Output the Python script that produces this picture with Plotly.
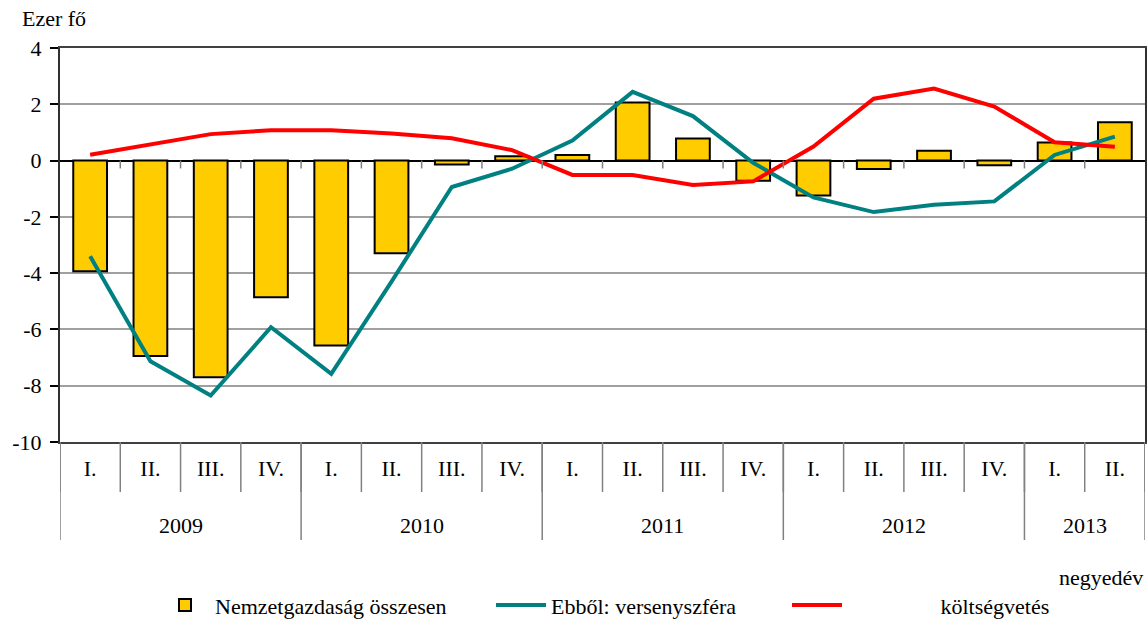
import plotly.graph_objects as go

years = ["2009", "2010", "2011", "2012", "2013"]
quarters_per_year = [4, 4, 4, 4, 2]
quarter_labels = ["I.", "II.", "III.", "IV.", "I.", "II.", "III.", "IV.", "I.", "II.", "III.", "IV.",
                  "I.", "II.", "III.", "IV.", "I.", "II."]

osszesen = [-3.93, -6.94, -7.7, -4.86, -6.57, -3.29, -0.14, 0.15, 0.2, 2.06, 0.78, -0.72,
            -1.24, -0.3, 0.35, -0.17, 0.64, 1.36]
versenyszfera = [-3.4, -7.13, -8.35, -5.92, -7.58, -4.3, -0.94, -0.29, 0.71, 2.44, 1.58, -0.08,
                 -1.31, -1.83, -1.57, -1.45, 0.2, 0.85]
koltsegvetes = [0.21, 0.57, 0.94, 1.08, 1.08, 0.96, 0.79, 0.37, -0.51, -0.51, -0.87, -0.74,
                0.5, 2.2, 2.56, 1.92, 0.65, 0.49]

y_ticks = [-10, -8, -6, -4, -2, 0, 2, 4]
y_tick_text = ["-10", "-8", "-6", "-4", "-2", "0", "2", "4"]

FONT = "Liberation Serif, Times New Roman, serif"
FS = 22
x = list(range(len(quarter_labels)))

fig = go.Figure()
fig.add_trace(go.Bar(x=x, y=osszesen, name="Nemzetgazdaság összesen", width=0.56,
                     marker=dict(color="#FFCC00", line=dict(color="#000000", width=2)),
                     legend="legend"))
fig.add_trace(go.Scatter(x=x, y=versenyszfera, name="Ebből: versenyszféra", mode="lines",
                         line=dict(color="#008080", width=4), legend="legend2"))
fig.add_trace(go.Scatter(x=x, y=koltsegvetes, name="\u00a0" * 17 + "költségvetés", mode="lines",
                         line=dict(color="#FF0000", width=4), legend="legend3"))

shapes = []
for b in range(len(quarter_labels) + 1):
    xb = b - 0.5
    shapes.append(dict(type="line", xref="x", yref="paper", x0=xb, x1=xb, y0=0, y1=-50 / 394,
                       line=dict(color="#808080", width=1.5)))
    if 0 < b < len(quarter_labels):
        shapes.append(dict(type="line", xref="x", yref="y", x0=xb, x1=xb, y0=0, y1=-0.28,
                           line=dict(color="#808080", width=1.5)))
annotations = []
start = 0
bounds = [0]
for yr, n in zip(years, quarters_per_year):
    annotations.append(dict(text=yr, xref="x", yref="paper", x=start + (n - 1) / 2, y=-83 / 394,
                            showarrow=False, font=dict(family=FONT, size=FS, color="#000"),
                            xanchor="center", yanchor="middle"))
    start += n
    bounds.append(start)
for b in bounds:
    shapes.append(dict(type="line", xref="x", yref="paper", x0=b - 0.5, x1=b - 0.5, y0=0,
                       y1=-98 / 394, line=dict(color="#808080", width=1.5)))

annotations.append(dict(text="Ezer fő", xref="paper", yref="paper", x=-40 / 1085, y=1.076,
                        xanchor="left", yanchor="middle", showarrow=False,
                        font=dict(family=FONT, size=FS, color="#000")))
annotations.append(dict(text="negyedév", xref="paper", yref="paper", x=1.0, y=-0.345,
                        xanchor="right", yanchor="middle", showarrow=False,
                        font=dict(family=FONT, size=FS, color="#000")))

legend_common = dict(orientation="h", yanchor="middle", y=-0.414, xanchor="left",
                     font=dict(family=FONT, size=FS, color="#000"), bgcolor="rgba(0,0,0,0)",
                     itemwidth=50)

fig.update_layout(
    width=1147, height=619,
    margin=dict(l=60, r=2, t=48, b=177, autoexpand=False),
    plot_bgcolor="white", paper_bgcolor="white",
    font=dict(family=FONT, size=FS, color="#000"),
    showlegend=True,
    legend=dict(legend_common, x=(155 - 60) / 1085),
    legend2=dict(legend_common, x=(491 - 60) / 1085),
    legend3=dict(legend_common, x=(787 - 60) / 1085),
    shapes=shapes,
    annotations=annotations,
    xaxis=dict(range=[-0.5, len(quarter_labels) - 0.5], tickmode="array", tickvals=x,
               ticktext=quarter_labels, ticks="", showgrid=False, zeroline=False,
               showline=True, mirror=True, linecolor="#404040", linewidth=2,
               tickfont=dict(family=FONT, size=FS, color="#000"), ticklabelstandoff=6),
    yaxis=dict(range=[-10, 4], tickmode="array", tickvals=y_ticks, ticktext=y_tick_text,
               ticks="outside", ticklen=8, tickcolor="#000", tickwidth=1.5,
               showgrid=True, gridcolor="#A0A0A0", gridwidth=2,
               zeroline=True, zerolinecolor="#000", zerolinewidth=1.5,
               showline=True, mirror=True, linecolor="#303030", linewidth=2,
               tickfont=dict(family=FONT, size=FS, color="#000"), ticklabelstandoff=4),
)

fig.write_html("out.html", config={"displayModeBar": False},
               post_script="document.body.style.margin='0';document.body.style.padding='0';")
